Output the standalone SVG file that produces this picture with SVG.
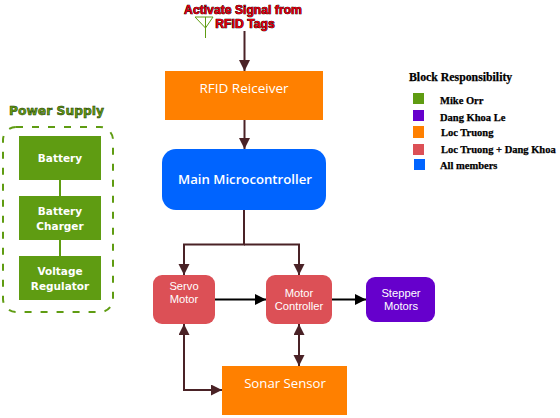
<svg xmlns="http://www.w3.org/2000/svg" width="560" height="418" viewBox="0 0 560 418">
<style>
.n{font-family:"Open Sans","Liberation Sans",sans-serif;fill:#fff;text-anchor:middle}
.s{font-family:"Liberation Sans",sans-serif;fill:#fff;text-anchor:middle;font-size:11.200px}
.nb{font-family:"DejaVu Sans","Liberation Sans",sans-serif;fill:#fff;text-anchor:middle;font-size:10.5px;font-weight:bold}
.l{font-family:"Liberation Serif",serif;font-size:10.5px;font-weight:bold;fill:#000;stroke:#000;stroke-width:.25}
.c{fill:none;stroke:#4a2226;stroke-width:2}
.k{fill:none;stroke:#000;stroke-width:2}
.g{fill:#5f9c12}.o{fill:#ff8000}.r{fill:#dc5056}.p{fill:#6600cc}.b{fill:#0064ff}
</style>
<defs>
<marker id="a" markerUnits="userSpaceOnUse" markerWidth="12" markerHeight="12" refX="11" refY="5.5" orient="auto-start-reverse"><path d="M0 0L11 5.500L0 11Z" fill="#4a2226"/></marker>
<marker id="k" markerUnits="userSpaceOnUse" markerWidth="12" markerHeight="12" refX="11" refY="5.500" orient="auto"><path d="M0 0L11 5.500L0 11Z" fill="#000"/></marker>
</defs>
<g id="connectors">
<path class="c" d="M244.500 31V71" marker-end="url(#a)"/>
<path class="c" d="M244.500 120V149" marker-end="url(#a)"/>
<path class="c" d="M244 210V244.500H184V275" marker-end="url(#a)"/>
<path class="c" d="M244 244.500H299V275" marker-end="url(#a)"/>
<path class="k" d="M215 299.500H266" marker-end="url(#k)"/>
<path class="k" d="M332 299.500H366" marker-end="url(#k)"/>
<path class="c" d="M299 324V366" marker-start="url(#a)" marker-end="url(#a)"/>
<path class="c" d="M184 324V390H222" marker-start="url(#a)" marker-end="url(#a)"/>
<path d="M60 180V196M60 240V256" fill="none" stroke="#5f9c12" stroke-width="2"/>
</g>
<g id="antenna" fill="none" stroke="#5f9c12" stroke-width="1">
<path d="M195 17H213M195 17L205.500 28L213 17M205.500 17V38"/>
</g>
<g id="activate" font-family="'Liberation Sans',sans-serif" font-size="12.200" font-weight="bold" text-anchor="middle">
<text x="243" y="14" fill="#000" stroke="#000" stroke-width=".7">Activate  Signal from</text>
<text x="243" y="14" fill="#e00010">Activate  Signal from</text>
<text x="245" y="28" fill="#000" stroke="#000" stroke-width=".7">RFID Tags</text>
<text x="245" y="28" fill="#e00010">RFID Tags</text>
</g>
<g id="rfid"><rect class="o" x="165" y="71" width="158" height="49"/><text class="n" x="244" y="93" style="font-size:13.500px">RFID Reiceiver</text></g>
<g id="main"><rect class="b" x="162" y="149" width="164" height="61" rx="14"/><text class="n" x="245" y="184" style="font-size:13.200px;font-weight:600">Main Microcontroller</text></g>
<g id="servo"><rect class="r" x="153" y="275" width="62" height="49" rx="9"/><text class="s" x="184" y="290">Servo</text><text class="s" x="184" y="303">Motor</text></g>
<g id="controller"><rect class="r" x="266" y="275" width="66" height="49" rx="9"/><text class="s" x="299" y="297">Motor</text><text class="s" x="299" y="310">Controller</text></g>
<g id="stepper"><rect class="p" x="366" y="277" width="69" height="45" rx="9"/><text class="s" x="401" y="297">Stepper</text><text class="s" x="401" y="310">Motors</text></g>
<g id="sonar"><rect class="o" x="222" y="366" width="125" height="49"/><text class="n" x="285" y="388" style="font-size:13.200px">Sonar  Sensor</text></g>
<g id="power">
<rect x="3" y="127" width="110" height="185" rx="13" fill="none" stroke="#5f9c12" stroke-width="2" stroke-dasharray="7 9"/>
<text x="56.500" y="115" font-family="'DejaVu Sans',sans-serif" font-size="12.300" font-weight="bold" text-anchor="middle" fill="#5f9c12" stroke="#223300" stroke-width=".5">Power Supply</text>
</g>
<g id="battery"><rect class="g" x="19" y="136" width="82" height="44"/><text class="nb" x="60" y="162">Battery</text></g>
<g id="charger"><rect class="g" x="19" y="196" width="82" height="44"/><text class="nb" x="60" y="215">Battery</text><text class="nb" x="60" y="230">Charger</text></g>
<g id="regulator"><rect class="g" x="19" y="256" width="82" height="44"/><text class="nb" x="60" y="275">Voltage</text><text class="nb" x="60" y="290">Regulator</text></g>
<g id="legend">
<text class="l" x="409" y="81" style="font-size:11.800px">Block Responsibility</text>
<rect class="g" x="413" y="93" width="11" height="11"/><text class="l" x="440" y="104">Mike Orr</text>
<rect class="p" x="413" y="110" width="11" height="11"/><text class="l" x="440" y="121">Dang Khoa Le</text>
<rect class="o" x="413" y="126" width="11" height="12"/><text class="l" x="441" y="136">Loc Truong</text>
<rect class="r" x="413" y="144" width="11" height="11"/><text class="l" x="441" y="153">Loc Truong + Dang Khoa</text>
<rect class="b" x="414" y="159" width="11" height="11"/><text class="l" x="440" y="169">All members</text>
</g>
</svg>
